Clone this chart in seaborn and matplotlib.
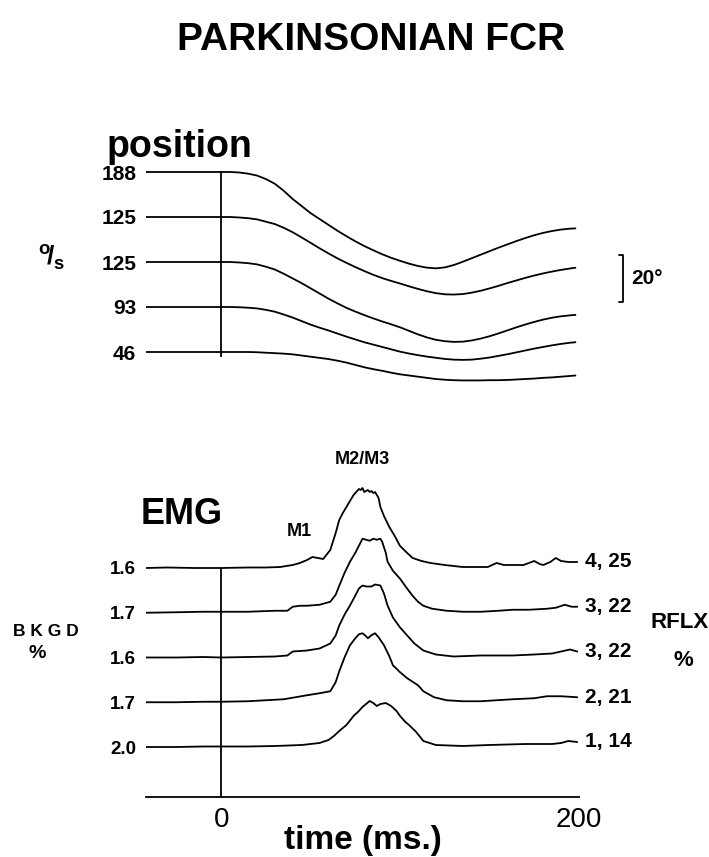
import numpy as np
import pandas as pd
import seaborn as sns
import matplotlib.pyplot as plt

# position traces: displacement in degrees (drawn downward), one per stretch velocity
pos_time = [-42, -20, 0, 5, 10, 15, 20, 25, 30, 35, 40, 45, 50, 55, 60, 65, 70, 75, 80, 85, 90, 95,
            100, 105, 110, 115, 120, 125, 130, 135, 140, 145, 150, 155, 160, 165, 170, 175, 180, 185,
            190, 195, 198]
pos_188 = [0, 0, 0, 0, 0.2, 0.7, 1.5, 3, 5, 8, 11.5, 14.5, 17.5, 20, 22.5, 25, 27.3, 29.5, 31.5, 33.3, 35, 36.5,
           37.8, 39, 40, 40.7, 41, 40.6, 39.6, 38.2, 36.7, 35.2, 33.7, 32.2, 30.8, 29.4, 28.1, 26.9, 25.9, 25.1,
           24.5, 24.1, 24]
pos_125a = [0, 0, 0, 0, 0.2, 0.5, 1, 2, 3, 4.6, 6.5, 8.7, 11, 13.3, 15.5, 17.6, 19.5, 21.3, 23, 24.6, 26, 27.2,
            28.3, 29.5, 30.6, 31.6, 32.4, 32.9, 33, 32.8, 32.2, 31.4, 30.4, 29.3, 28.1, 27, 25.9, 24.9, 24, 23.2,
            22.5, 21.9, 21.6]
pos_125b = [0, 0, 0, 0, 0.2, 0.5, 1, 2, 3.2, 5, 7, 9, 11.2, 13.4, 15.6, 17.6, 19.5, 21.1, 22.6, 24, 25.3, 26.5,
            27.8, 29.3, 30.8, 32.1, 33.1, 33.7, 34, 33.9, 33.4, 32.6, 31.6, 30.4, 29.1, 27.8, 26.6, 25.5, 24.5, 23.7,
            23.1, 22.7, 22.5]
pos_93 = [0, 0, 0, 0, 0.1, 0.3, 0.6, 1.2, 2, 3.2, 4.5, 6, 7.5, 8.8, 10, 11.3, 12.6, 13.8, 15, 16, 17, 18,
          19, 19.8, 20.5, 21.1, 21.6, 22.1, 22.4, 22.5, 22.4, 22, 21.5, 20.8, 20.1, 19.3, 18.5, 17.7, 17, 16.3,
          15.7, 15.2, 15]
pos_46 = [0, 0, 0, 0, 0, 0, 0.1, 0.3, 0.5, 0.7, 1, 1.5, 2, 2.5, 3, 3.7, 4.5, 5.5, 6.5, 7.3, 8, 8.8,
          9.5, 10, 10.5, 11, 11.5, 11.8, 12, 12.1, 12.1, 12.1, 12, 12, 11.9, 11.7, 11.5, 11.3, 11, 10.8,
          10.5, 10.2, 10]
pos_labels = ['188', '125', '125', '93', '46']
scale_deg = 20

# rectified EMG traces (arbitrary units)
emg1_time = [-42, -30, -15, 0, 15, 25, 33, 40, 44, 48, 51, 54, 57, 61, 64, 66, 68, 70, 72, 74,
             76, 77, 78, 79, 80, 82, 83, 84, 85, 86, 88, 89, 91, 94, 97, 100, 104, 107, 112, 117,
             125, 135, 142, 149, 154, 158, 163, 169, 172, 175, 178, 180, 184, 187, 190, 194, 199]
emg1_amp = [0, 0.5, 0, 0, 0.5, 0.5, 1, 3, 5, 8, 11, 10, 9, 18, 35, 48, 55, 61, 67, 73,
            77, 79, 78, 80, 76, 78, 76, 77, 75, 76, 70, 61, 52, 41, 32, 22, 15, 10, 7, 5,
            3, 1, 1, 1, 5, 3, 3, 3, 5, 7, 4, 3, 6, 10, 7, 6, 6]
emg2_time = [-42, -25, -10, 0, 15, 30, 37, 40, 44, 48, 55, 61, 64, 66, 69, 72, 75, 77, 79, 81,
             83, 85, 87, 89, 90, 92, 93, 96, 100, 104, 107, 110, 113, 118, 126, 135, 145, 155, 163, 172,
             182, 187, 192, 196, 199]
emg2_amp = [0, 0.5, 1, 1, 1, 2, 2, 6, 7, 7, 8, 11, 18, 27, 40, 51, 60, 67, 74, 73,
            72, 74, 73, 74, 71, 60, 51, 42, 34, 24, 17, 11, 7, 4, 2, 1, 1, 2, 3, 3,
            4, 5, 8, 6, 6]
emg3_time = [-42, -25, -10, 0, 15, 30, 37, 40, 48, 55, 61, 64, 66, 69, 72, 75, 77, 79, 81, 84,
             86, 89, 91, 93, 96, 100, 104, 108, 113, 120, 130, 145, 163, 175, 185, 190, 195, 199]
emg3_amp = [0, 0, 0.5, 0, 0.5, 1, 2, 6, 7, 9, 14, 22, 32, 43, 52, 62, 69, 72, 71, 71,
            73, 72, 64, 52, 40, 30, 22, 14, 7, 3, 1, 2, 2, 3, 4, 6, 8, 6]
emg4_time = [-42, -25, -10, 0, 15, 35, 48, 55, 61, 64, 66, 69, 72, 75, 77, 79, 81, 82, 84, 86,
             88, 91, 94, 96, 100, 104, 110, 113, 119, 126, 135, 145, 163, 175, 182, 190, 199]
emg4_amp = [0, 0, 0.5, 0.5, 1, 3, 7, 9, 11, 20, 31, 45, 57, 64, 68, 69, 66, 64, 67, 69,
            65, 57, 46, 37, 30, 24, 17, 11, 5, 2, 1, 1, 3, 4, 6, 6, 5]
emg5_time = [-42, -25, -10, 0, 15, 30, 45, 55, 60, 63, 66, 70, 74, 77, 79, 81, 83, 85, 87, 89,
             92, 94, 95, 98, 100, 103, 105, 109, 113, 120, 135, 150, 170, 185, 190, 194, 199]
emg5_amp = [0, 0, 0.5, 0.5, 0.5, 1, 2, 4, 7, 11, 16, 22, 31, 36, 40, 43, 46, 44, 41, 43,
            44, 42, 41, 36, 31, 25, 22, 15, 6, 2, 1, 2, 3, 3, 4, 6, 5]
bkgd_labels = ['1.6', '1.7', '1.6', '1.7', '2.0']
rflx_labels = ['4, 25', '3, 22', '3, 22', '2, 21', '1, 14']

pos_traces = [pos_188, pos_125a, pos_125b, pos_93, pos_46]
emg_traces = [(emg1_time, emg1_amp), (emg2_time, emg2_amp), (emg3_time, emg3_amp),
              (emg4_time, emg4_amp), (emg5_time, emg5_amp)]

sns.set_style('white')
plt.rcParams['font.family'] = ['Liberation Sans', 'DejaVu Sans']
plt.rcParams['mathtext.fontset'] = 'custom'
plt.rcParams['mathtext.rm'] = 'Liberation Sans:bold'
for key in ['text.color', 'axes.labelcolor', 'xtick.color', 'ytick.color', 'axes.edgecolor']:
    plt.rcParams[key] = 'black'

W, H = 709, 857
fig = plt.figure(figsize=(W / 100, H / 100), dpi=100)

# layout in pixels
X0, X1 = 146, 579
T_MIN, T_MAX = -42, 200
PX_PER_DEG = 2.35
POS_TOP, POS_BOT, POS_BASE0, POS_GAP = 150, 400, 172, 45
EMG_TOP, EMG_BOT, EMG_BASE0, EMG_GAP = 440, 797, 568, 44.75

ax_pos = fig.add_axes([X0 / W, 1 - POS_BOT / H, (X1 - X0) / W, (POS_BOT - POS_TOP) / H])
ax_emg = fig.add_axes([X0 / W, 1 - EMG_BOT / H, (X1 - X0) / W, (EMG_BOT - EMG_TOP) / H])

# ---- position panel ----
pos_gap_deg = POS_GAP / PX_PER_DEG
pos_base = [-k * pos_gap_deg for k in range(5)]
for base, disp in zip(pos_base, pos_traces):
    sns.lineplot(x=pos_time, y=base - np.array(disp), ax=ax_pos, color='black', linewidth=1.3)
ax_pos.set_xlim(T_MIN, T_MAX)
ax_pos.set_ylim(-(POS_BOT - POS_BASE0) / PX_PER_DEG, (POS_BASE0 - POS_TOP) / PX_PER_DEG)
ax_pos.vlines(0, pos_base[-1] - 2.2, 0.5, color='black', linewidth=1.3)
ax_pos.set_yticks(pos_base)
ax_pos.set_yticklabels(pos_labels, fontsize=15, fontweight='bold')
ax_pos.tick_params(axis='y', length=0, pad=7)
ax_pos.set_xticks([])
for s in ax_pos.spines.values():
    s.set_visible(False)

# 20 deg calibration bracket
t_bar = 224.6
y_bar = -(255 - POS_BASE0) / PX_PER_DEG
ax_pos.plot([t_bar - 2.5, t_bar, t_bar, t_bar - 2.5],
            [y_bar, y_bar, y_bar - scale_deg, y_bar - scale_deg],
            color='black', linewidth=1.3, clip_on=False)
ax_pos.text(t_bar + 4.5, y_bar - scale_deg / 2, '%d°' % scale_deg, fontsize=15,
            fontweight='bold', va='center', ha='left')

# ---- EMG panel ----
emg_base = [(EMG_BOT - EMG_BASE0) - k * EMG_GAP for k in range(5)]
for base, (t, a) in zip(emg_base, emg_traces):
    sns.lineplot(x=t, y=base + np.array(a), ax=ax_emg, color='black', linewidth=1.3)
for base, (t, a), lab in zip(emg_base, emg_traces, rflx_labels):
    ax_emg.text(203.5, base + a[-1], lab, fontsize=15, fontweight='bold',
                va='center', ha='left', clip_on=False)
ax_emg.set_xlim(T_MIN, T_MAX)
ax_emg.set_ylim(0, EMG_BOT - EMG_TOP)
ax_emg.vlines(0, 0, emg_base[0], color='black', linewidth=1.3)
ax_emg.set_yticks(emg_base)
ax_emg.set_yticklabels(bkgd_labels, fontsize=13.5, fontweight='bold')
ax_emg.tick_params(axis='y', length=0, pad=7)
ax_emg.set_xticks([T_MIN, 0, 200])
ax_emg.set_xticklabels(['', '0', '200'], fontsize=20)
ax_emg.tick_params(axis='x', direction='out', length=5, width=1.2, pad=2)
for name, s in ax_emg.spines.items():
    s.set_visible(name == 'bottom')
ax_emg.spines['bottom'].set_linewidth(1.3)
ax_emg.set_xlabel('time (ms.)', fontsize=24, fontweight='bold', va='top')
ax_emg.xaxis.set_label_coords(0.5, -0.078)

ax_emg.text(43.5, emg_base[0] + 37, 'M1', fontsize=13, fontweight='bold', ha='center', va='center')
ax_emg.text(79, emg_base[0] + 108, 'M2/M3', fontsize=13, fontweight='bold', ha='center', va='center')
ax_emg.text(-22, emg_base[0] + 53, 'EMG', fontsize=26, fontweight='bold', ha='center', va='center')

# ---- free text ----
fig.text(371 / W, 1 - 40 / H, 'PARKINSONIAN FCR', fontsize=28, fontweight='bold', ha='center', va='center')
fig.text(107 / W, 1 - 157 / H, 'position', fontsize=27, fontweight='bold', ha='left', va='baseline')
fig.text(52 / W, 1 - 257 / H, r'$^{\rm o}\!/_{\rm s}$', fontsize=19, ha='center', va='center')
fig.text(46 / W, 1 - 632 / H, 'B K G D', fontsize=12.5, fontweight='bold', ha='center', va='center')
fig.text(37 / W, 1 - 653 / H, '%', fontsize=14, fontweight='bold', ha='center', va='center')
fig.text(680 / W, 1 - 622 / H, 'RFLX', fontsize=16, fontweight='bold', ha='center', va='center')
fig.text(683 / W, 1 - 660 / H, '%', fontsize=16, fontweight='bold', ha='center', va='center')

fig.savefig('out.png', dpi=100)
